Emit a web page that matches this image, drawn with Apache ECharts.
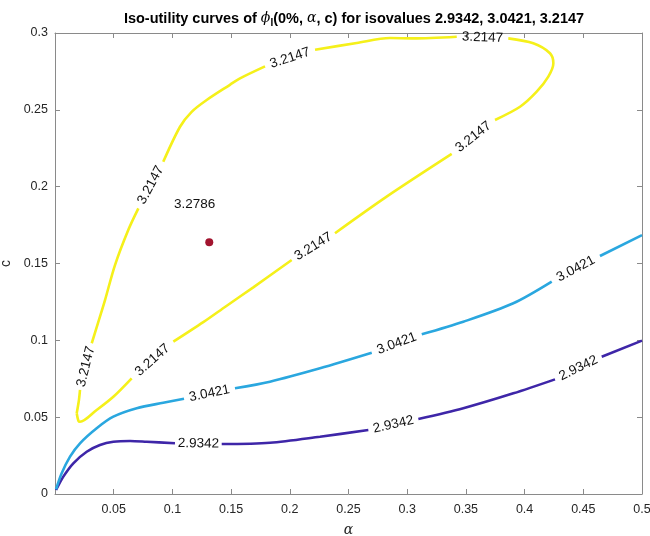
<!DOCTYPE html>
<html>
<head>
<meta charset="utf-8">
<script src="https://cdn.jsdelivr.net/npm/echarts@6/dist/echarts.min.js"></script>
<style>
html,body{margin:0;padding:0;background:#fff;}
#chart{width:650px;height:536px;}
</style>
</head>
<body>
<div id="chart"></div>
<script>
// ---------- data ----------
const isoValues = ['2.9342', '3.0421', '3.2147'];
const xTicks = [0, 0.05, 0.1, 0.15, 0.2, 0.25, 0.3, 0.35, 0.4, 0.45, 0.5];
const yTicks = [0, 0.05, 0.1, 0.15, 0.2, 0.25, 0.3];

// null marks a gap where an inline contour label sits
const curve29342 = [
  [0.0009, 0.0026], [0.0071, 0.0113], [0.0156, 0.0200], [0.0270, 0.0275],
  [0.0383, 0.0319], [0.0497, 0.0340], [0.0639, 0.0345], [0.0781, 0.0340],
  [0.1022, 0.0330], null,
  [0.1420, 0.0325], [0.1831, 0.0334], [0.2257, 0.0373], [0.2669, 0.0416], null,
  [0.3095, 0.0488], [0.3478, 0.0558], [0.3904, 0.0655], [0.4259, 0.0746], null,
  [0.4657, 0.0893], [0.5000, 0.0998]
];
const curve30421 = [
  [0.0009, 0.0031], [0.0057, 0.0135], [0.0128, 0.0243], [0.0213, 0.0330],
  [0.0355, 0.0428], [0.0497, 0.0503], [0.0696, 0.0558], [0.0922, 0.0594],
  [0.1099, 0.0620], null,
  [0.1533, 0.0688], [0.1831, 0.0731], [0.2257, 0.0818], [0.2698, 0.0919], null,
  [0.3124, 0.1039], [0.3478, 0.1121], [0.3904, 0.1241], [0.4231, 0.1382], null,
  [0.4642, 0.1549], [0.5000, 0.1685]
];
const curve32147 = [
  [0.0185, 0.0525], [0.0204, 0.0612], [0.0213, 0.0677], null,
  [0.0313, 0.0981], [0.0383, 0.1154], [0.0426, 0.1262], [0.0511, 0.1490],
  [0.0624, 0.1718], [0.0710, 0.1859], null,
  [0.0922, 0.2162], [0.1065, 0.2390], [0.1164, 0.2487], [0.1292, 0.2564],
  [0.1490, 0.2663], [0.1576, 0.2705], [0.1789, 0.2783], null,
  [0.2215, 0.2891], [0.2570, 0.2935], [0.2853, 0.2967], [0.3052, 0.2965],
  [0.3422, 0.2976], null,
  [0.3861, 0.2965], [0.4074, 0.2933], [0.4216, 0.2868], [0.4245, 0.2803],
  [0.4202, 0.2716], [0.4103, 0.2618], [0.3961, 0.2520], [0.3748, 0.2434], null,
  [0.3379, 0.2213], [0.2825, 0.1935], [0.2385, 0.1697], null,
  [0.2016, 0.1523], [0.1689, 0.1345], [0.1457, 0.1222], [0.1263, 0.1118],
  [0.1008, 0.0991], null,
  [0.0653, 0.0753], [0.0497, 0.0633], [0.0355, 0.0547], [0.0213, 0.0470],
  [0.0199, 0.0477], [0.0185, 0.0525]
];
const optimumPoint = [0.1314, 0.1638];
const optimumValue = '3.2786';
const optimumLabelAt = [0.119, 0.1885];

// ---------- styling ----------
const curves = [curve29342, curve30421, curve32147];
const colors = ['#3E26A8', '#2AA7DF', '#F5F01A'];
const FONT = "'Liberation Sans', Arial, Helvetica, sans-serif";
const AXIS_COLOR = '#262626';
const AXIS_LINE = '#8a8a8a';

function splitSegments(arr) {
  const segs = [[]];
  arr.forEach(p => { if (p === null) segs.push([]); else segs[segs.length - 1].push(p); });
  return segs.filter(s => s.length);
}
function gapLabels(arr, idx) {
  const out = [];
  for (let i = 0; i < arr.length; i++) {
    if (arr[i] === null) {
      const a = arr[i - 1], b = arr[i + 1];
      out.push([a[0], a[1], b[0], b[1], idx]);
    }
  }
  return out;
}

const series = [];
curves.forEach((c, ci) => {
  splitSegments(c).forEach(seg => {
    series.push({
      type: 'line', data: seg, showSymbol: false, symbol: 'none', smooth: 0.3,
      lineStyle: { color: colors[ci], width: 2.6 }, z: 2 + ci, silent: true, animation: false
    });
  });
});

let labelData = [];
curves.forEach((c, ci) => { labelData = labelData.concat(gapLabels(c, ci)); });

series.push({
  type: 'custom', data: labelData, z: 10, animation: false, silent: true,
  encode: { x: [0, 2], y: [1, 3] },
  renderItem: function (params, api) {
    const p1 = api.coord([api.value(0), api.value(1)]);
    const p2 = api.coord([api.value(2), api.value(3)]);
    let ang = -Math.atan2(p2[1] - p1[1], p2[0] - p1[0]);
    if (ang > Math.PI / 2) ang -= Math.PI;
    if (ang < -Math.PI / 2) ang += Math.PI;
    return {
      type: 'text',
      x: (p1[0] + p2[0]) / 2, y: (p1[1] + p2[1]) / 2,
      rotation: ang,
      style: {
        text: isoValues[api.value(4)], fill: '#111',
        font: '13.5px ' + FONT, align: 'center', verticalAlign: 'middle'
      }
    };
  }
});

series.push({
  type: 'scatter', data: [optimumPoint], symbol: 'circle', symbolSize: 8,
  itemStyle: { color: '#A2142F', opacity: 1 }, z: 11, animation: false, silent: true
});
series.push({
  type: 'scatter', data: [optimumLabelAt], symbolSize: 0, z: 11, animation: false, silent: true,
  itemStyle: { opacity: 1 },
  label: { show: true, position: 'inside', formatter: optimumValue, color: '#111', fontSize: 13.5, fontFamily: FONT }
});

const baseX = {
  type: 'value', min: xTicks[0], max: xTicks[xTicks.length - 1], interval: 0.05,
  axisLine: { onZero: false, lineStyle: { color: AXIS_LINE, width: 1 } },
  axisTick: { inside: true, length: 5, lineStyle: { color: AXIS_LINE } },
  splitLine: { show: false }
};
const baseY = {
  type: 'value', min: yTicks[0], max: yTicks[yTicks.length - 1], interval: 0.05,
  axisLine: { onZero: false, lineStyle: { color: AXIS_LINE, width: 1 } },
  axisTick: { inside: true, length: 5, lineStyle: { color: AXIS_LINE } },
  splitLine: { show: false }
};

const option = {
  backgroundColor: '#ffffff',
  animation: false,
  title: {
    text: '{b|Iso-utility curves of }{g|ϕ}{s|I}{b|(0%, }{g|α}{b|, c) for isovalues ' + isoValues.join(', ') + '}',
    left: 349, top: 4, textAlign: 'center',
    textStyle: {
      rich: {
        b: { fontFamily: FONT, fontWeight: 'bold', fontSize: 14.5, color: '#000' },
        g: { fontFamily: "'DejaVu Serif', serif", fontStyle: 'italic', fontWeight: 'normal', fontSize: 14, color: '#000' },
        s: { fontFamily: FONT, fontWeight: 'bold', fontSize: 10, color: '#000', verticalAlign: 'bottom', padding: [9, 0, 0, 0] }
      }
    }
  },
  grid: { left: 55, right: 8, top: 33, bottom: 42, containLabel: false, outerBoundsMode: 'none' },
  xAxis: [
    Object.assign({}, baseX, {
      position: 'bottom',
      name: 'α', nameLocation: 'middle', nameGap: 29,
      nameTextStyle: { fontFamily: "'DejaVu Serif', serif", fontStyle: 'italic', fontSize: 14, color: AXIS_COLOR },
      axisLabel: {
        color: AXIS_COLOR, fontSize: 12.5, fontFamily: FONT, margin: 9, showMinLabel: false,
        formatter: v => String(+v.toFixed(2))
      }
    }),
    Object.assign({}, baseX, { position: 'top', axisLabel: { show: false } })
  ],
  yAxis: [
    Object.assign({}, baseY, {
      position: 'left',
      name: 'c', nameLocation: 'middle', nameGap: 42, nameRotate: 90,
      nameTextStyle: { fontFamily: FONT, fontSize: 14, color: AXIS_COLOR },
      axisLabel: { color: AXIS_COLOR, fontSize: 12.5, fontFamily: FONT, margin: 7, formatter: v => String(+v.toFixed(2)) }
    }),
    Object.assign({}, baseY, { position: 'right', axisLabel: { show: false } })
  ],
  series: series
};

const chart = echarts.init(document.getElementById('chart'), null, { renderer: 'canvas' });
chart.setOption(option);
</script>
</body>
</html>
